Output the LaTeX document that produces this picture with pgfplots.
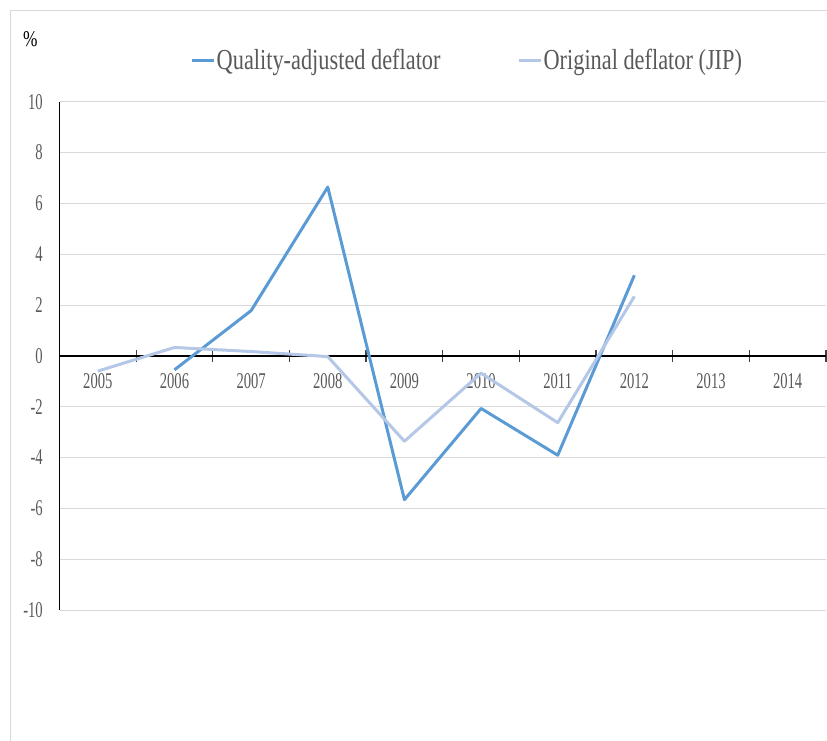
\documentclass[border=0pt]{standalone}
\usepackage{fontspec}
\usepackage{pgfplots}
\pgfplotsset{compat=1.18}
\setmainfont{Liberation Serif}
\newfontfamily\tickfont[FakeStretch=0.65]{Liberation Serif}
\newfontfamily\legfont[FakeStretch=0.77]{Liberation Serif}
\definecolor{qa}{HTML}{5B9BD5}
\definecolor{orig}{HTML}{B4C7E7}
\definecolor{txt}{HTML}{595959}
\definecolor{gridc}{HTML}{D9D9D9}

\begin{document}
\begin{tikzpicture}[x=1pt,y=1pt]
\begin{axis}[
  scale only axis, width=766.5pt, height=508.3pt,
  xmin=-0.5, xmax=9.5, ymin=-10, ymax=10,
  axis x line=middle, axis y line=left,
  axis line style={-},
  x axis line style={line width=2.2pt, black},
  y axis line style={line width=1.2pt, black},
  xtick={0,...,9},
  xticklabels={2005,2006,2007,2008,2009,2010,2011,2012,2013,2014},
  minor xtick={-0.5,0.5,...,9.5},
  ytick={-10,-8,...,10},
  yticklabels={-10,-8,-6,-4,-2,0,2,4,6,8,10},
  major tick length=0pt,
  minor tick length=12pt,
  tick align=center,
  minor tick style={line width=1.3pt, black!75},
  ymajorgrids,
  grid style={gridc, line width=1pt},
  ticklabel style={font=\tickfont\fontsize{22.5}{24}\selectfont, text=txt},
  xticklabel style={anchor=base, inner sep=0pt, yshift=-33pt},
  yticklabel style={anchor=east, inner sep=0pt, xshift=-16.5pt},
  legend columns=2,
  legend style={at={(0.1703,1.082)}, anchor=west, draw=none, fill=none,
    inner sep=0pt, font=\legfont\fontsize{29}{30}\selectfont, text=txt,
    nodes={inner sep=1.5pt},
    /tikz/every even column/.append style={column sep=75pt}},
  legend image code/.code={\draw[#1] (0pt,0pt) -- (22pt,0pt);},
  every axis plot/.append style={line width=3pt, line join=round},
]
\coordinate (O) at (rel axis cs:0,0);
\addplot[qa] coordinates {
  (1,-0.55) (2,1.78) (3,6.64) (4,-5.66) (5,-2.07) (6,-3.91) (7,3.17)
};
\addlegendentry{Quality-adjusted deflator}
\addplot[orig] coordinates {
  (0,-0.60) (1,0.33) (2,0.17) (3,-0.03) (4,-3.36) (5,-0.68) (6,-2.63) (7,2.34)
};
\addlegendentry{Original deflator (JIP)}
\end{axis}
% page area: 827 x 740, the plot box starts 59.5 in and 130 up
\pgfresetboundingbox
\coordinate (P) at ([shift={(-59.5,-130)}]O);
\path[use as bounding box] (P) rectangle ++(827,740);
\begin{scope}
  \clip (P) rectangle ++(827,740);
  % chart frame
  \draw[gridc, line width=1pt] ([shift={(10.5,-20)}]P) rectangle ([shift={(860,729.5)}]P);
\end{scope}
% unit label
\node[anchor=base west, inner sep=0pt, text=black,
      font=\legfont\fontsize{22.5}{24}\selectfont] at ([shift={(23,693.5)}]P) {\%};
\end{tikzpicture}
\end{document}
